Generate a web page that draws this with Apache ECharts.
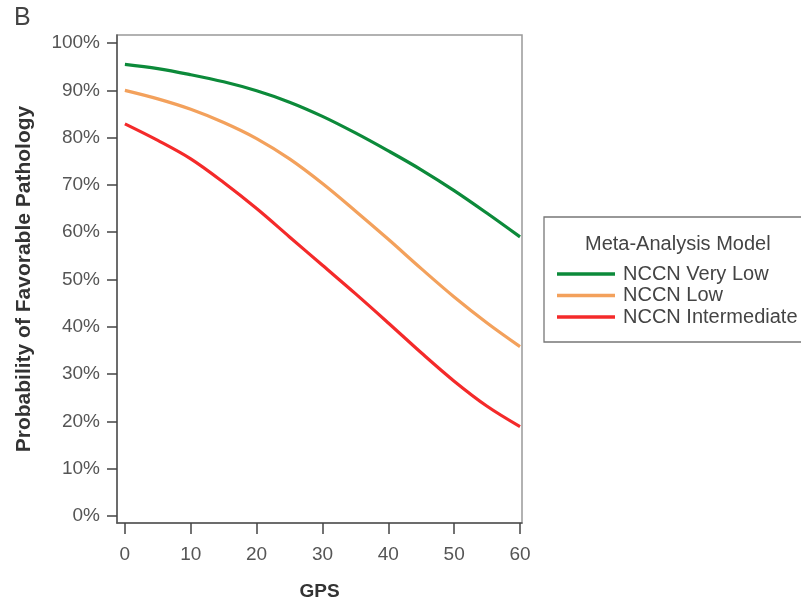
<!DOCTYPE html>
<html><head><meta charset="utf-8">
<script src="https://cdn.jsdelivr.net/npm/echarts@6/dist/echarts.min.js"></script>
<style>html,body{margin:0;padding:0;background:#fff}#c{width:801px;height:606px}</style>
</head><body><div id="c"></div>
<script>
const gps = [0, 5, 10, 15, 20, 25, 30, 35, 40, 45, 50, 55, 60];
const veryLow = [95.5, 94.6, 93.3, 91.8, 89.9, 87.5, 84.5, 81.0, 77.2, 73.2, 68.8, 64.0, 59.0];
const low = [90.0, 88.2, 86.0, 83.2, 79.8, 75.5, 70.3, 64.5, 58.5, 52.3, 46.3, 40.8, 35.8];
const intermediate = [82.9, 79.4, 75.5, 70.5, 65.0, 59.0, 53.0, 47.0, 40.8, 34.5, 28.5, 23.2, 18.9];
const xTicks = [0, 10, 20, 30, 40, 50, 60];
const yTicks = [0, 10, 20, 30, 40, 50, 60, 70, 80, 90, 100];
const seriesNames = ['NCCN Very Low', 'NCCN Low', 'NCCN Intermediate'];
const seriesColors = ['#0c8a3a', '#f3a15c', '#f42a2a'];

const FONT = '"Liberation Sans", Arial, sans-serif';
const pairs = v => gps.map((g, i) => [g, v[i]]);
const chart = echarts.init(document.getElementById('c'), null, {renderer: 'canvas'});
chart.setOption({
  animation: false,
  backgroundColor: '#fff',
  textStyle: {fontFamily: FONT},
  title: [
    {text: 'B', left: 14, top: 6, padding: 0, textStyle: {fontSize: 25, fontWeight: 'normal', color: '#444', fontFamily: FONT}},
    {text: 'Meta-Analysis Model', left: 585, top: 234, padding: 0, textStyle: {fontSize: 20, fontWeight: 'normal', color: '#444', fontFamily: FONT}}
  ],
  grid: {left: 117, top: 35, right: 279, bottom: 81, show: true, borderColor: '#999', borderWidth: 1.5},
  legend: {
    orient: 'vertical', left: 544, top: 217,
    padding: [47, 60, 15, 13], itemGap: 1.5,
    borderColor: '#777', borderWidth: 1.3,
    itemWidth: 58, itemHeight: 3.3, icon: 'rect',
    textStyle: {fontSize: 20, color: '#444', fontFamily: FONT, lineHeight: 20, padding: [0, 0, 0, 3]},
    data: seriesNames
  },
  xAxis: {
    type: 'value', min: -1.2, max: 60.3,
    name: 'GPS', nameLocation: 'middle', nameGap: 59,
    nameTextStyle: {fontSize: 19, fontWeight: 'bold', color: '#333', fontFamily: FONT},
    axisLine: {show: true, onZero: false, lineStyle: {color: '#555', width: 1.5}},
    axisTick: {show: true, length: 11, customValues: xTicks, lineStyle: {color: '#444', width: 1.5}},
    axisLabel: {customValues: xTicks, fontSize: 19, color: '#555', margin: 22, fontFamily: FONT},
    splitLine: {show: false}
  },
  yAxis: {
    type: 'value', min: -1.5, max: 101.7,
    name: 'Probability of Favorable Pathology', nameLocation: 'middle', nameGap: 82,
    nameTextStyle: {fontSize: 21, fontWeight: 'bold', color: '#333', fontFamily: FONT},
    axisLine: {show: true, onZero: false, lineStyle: {color: '#555', width: 1.5}},
    axisTick: {show: true, length: 10, customValues: yTicks, lineStyle: {color: '#444', width: 1.5}},
    axisLabel: {customValues: yTicks, formatter: '{value}%', fontSize: 19, color: '#555', margin: 17, fontFamily: FONT},
    splitLine: {show: false}
  },
  series: [veryLow, low, intermediate].map((v, i) => ({
    name: seriesNames[i], type: 'line', data: pairs(v), smooth: 0.35,
    showSymbol: false, color: seriesColors[i],
    lineStyle: {width: 3.2, color: seriesColors[i]}
  }))
});
</script></body></html>
